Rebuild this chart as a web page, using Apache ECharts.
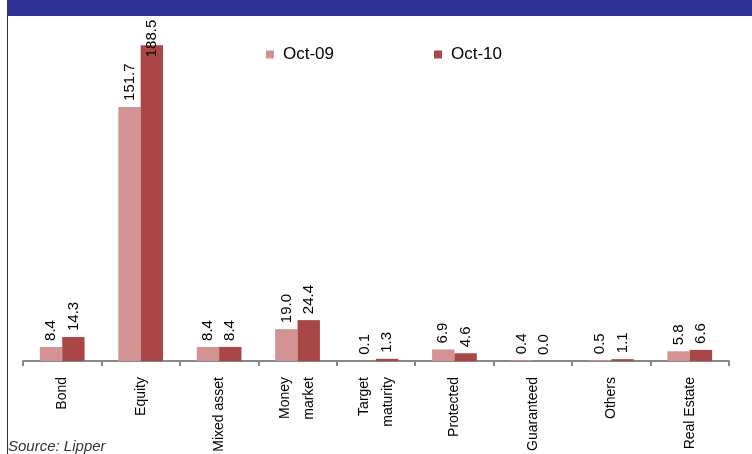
<!DOCTYPE html>
<html><head><meta charset="utf-8">
<script src="https://cdn.jsdelivr.net/npm/echarts@6/dist/echarts.min.js"></script>
<style>html,body{margin:0;padding:0;background:#fff}#c{width:752px;height:454px}</style>
</head><body><div id="c"></div>
<script>
var categories = ['Bond','Equity','Mixed asset','Money\nmarket','Target\nmaturity','Protected','Guaranteed','Others','Real Estate'];
var oct09 = [8.4, 151.7, 8.4, 19.0, 0.1, 6.9, 0.4, 0.5, 5.8];
var oct10 = [14.3, 188.5, 8.4, 24.4, 1.3, 4.6, 0.0, 1.1, 6.6];
var seriesNames = ['Oct-09','Oct-10'];

var chart = echarts.init(document.getElementById('c'), null, {renderer:'canvas'});
var font = 'Liberation Sans, Arial, sans-serif';
var lbl = {show:true, position:'top', rotate:90, align:'left', verticalAlign:'middle', distance:6,
  fontFamily:font, fontSize:15, color:'#000', formatter:function(p){return p.value.toFixed(1);}};
function toData(arr){
  return arr.map(function(v){
    // labels of bars that reach the top of the plot are pulled down onto the bar
    return v > 180 ? {value:v, label:{distance:-12}} : v;
  });
}
chart.setOption({
  animation:false,
  graphic:[
    {type:'rect', shape:{x:7,y:0,width:745,height:16}, style:{fill:'#2E3192'}, z:-1},
    {type:'line', shape:{x1:7.5,y1:16,x2:7.5,y2:454}, style:{stroke:'#333',lineWidth:1}},
    {type:'text', left:8, top:439, style:{text:'Source: Lipper', fontFamily:font, fontStyle:'italic', fontSize:15, fill:'#333'}}
  ],
  legend:{data:seriesNames, left:261, top:41, itemWidth:8, itemHeight:8, itemGap:100, icon:'rect',
    textStyle:{fontFamily:font, fontSize:17, color:'#000', padding:[0,0,0,4]}},
  grid:{left:23, right:23, top:26, bottom:93, containLabel:false, outerBoundsMode:'none'},
  xAxis:{type:'category', data:categories,
    axisLine:{lineStyle:{color:'#888', width:2}},
    axisTick:{show:true, length:5, lineStyle:{color:'#888', width:2}},
    axisLabel:{rotate:90, margin:16, fontFamily:font, fontSize:14, color:'#000', lineHeight:24, interval:0}},
  yAxis:{type:'value', min:0, max:200, show:false, splitLine:{show:false}},
  series:[
    {name:seriesNames[0], type:'bar', data:toData(oct09), barGap:'0%', barCategoryGap:'43%',
     itemStyle:{color:'#D39392'}, label:lbl},
    {name:seriesNames[1], type:'bar', data:toData(oct10),
     itemStyle:{color:'#A94646'}, label:lbl}
  ]
});
</script></body></html>
